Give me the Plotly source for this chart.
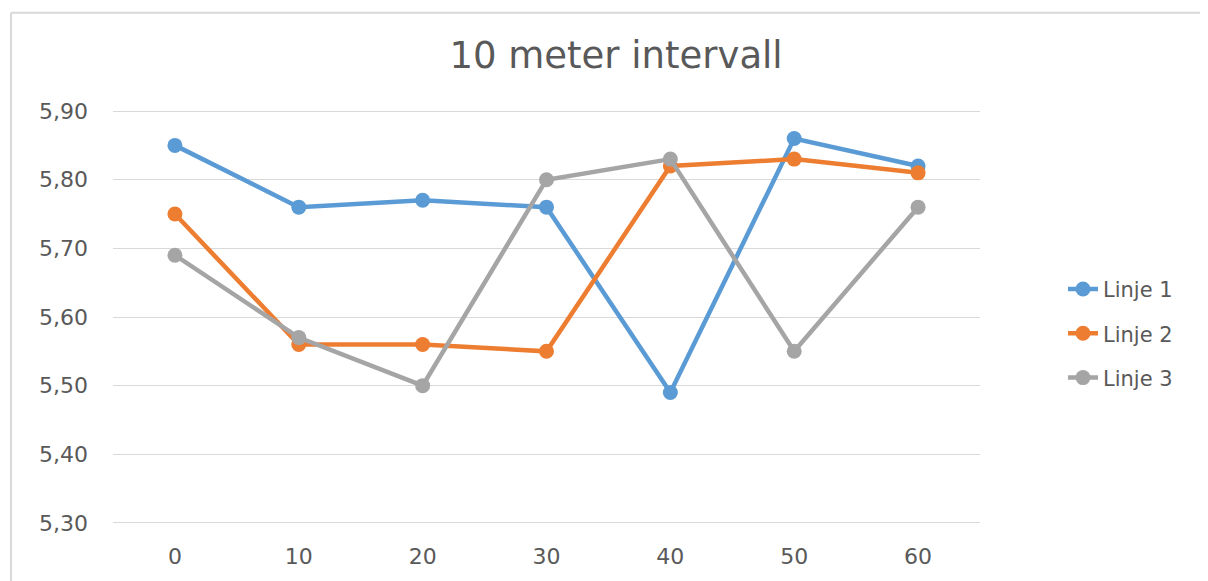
import plotly.graph_objects as go

categories = ["0", "10", "20", "30", "40", "50", "60"]
linje1 = [5.85, 5.76, 5.77, 5.76, 5.49, 5.86, 5.82]
linje2 = [5.75, 5.56, 5.56, 5.55, 5.82, 5.83, 5.81]
linje3 = [5.69, 5.57, 5.50, 5.80, 5.83, 5.55, 5.76]
series_names = ["Linje 1", "Linje 2", "Linje 3"]
colors = ["#5B9BD5", "#ED7D31", "#A5A5A5"]
ytick_vals = [5.30, 5.40, 5.50, 5.60, 5.70, 5.80, 5.90]

fig = go.Figure()
for name, vals, col in zip(series_names, [linje1, linje2, linje3], colors):
    fig.add_trace(go.Scatter(
        x=categories, y=vals, name=name, mode="lines+markers",
        legendgroup=name,
        line=dict(color=col, width=4.5),
        marker=dict(color=col, size=15),
    ))

# page has an 8px body margin, so the figure is drawn at (8, 8)
W, H = 1200, 573
ml, mr, mt, mb = 105, 228, 101, 53
pw, ph = W - ml - mr, H - mt - mb

def px_x(p):
    return (p - ml) / pw

def px_y(p):
    return 1 - (p - mt) / ph

border = dict(color="#D9D9D9", width=2)
fig.add_shape(type="line", xref="paper", yref="paper",
              x0=px_x(3), x1=px_x(1205), y0=px_y(4), y1=px_y(4), line=border)
fig.add_shape(type="line", xref="paper", yref="paper",
              x0=px_x(3), x1=px_x(3), y0=px_y(4), y1=px_y(590), line=border)

font_family = "DejaVu Sans, Open Sans, sans-serif"
fig.update_layout(
    width=W, height=H,
    margin=dict(l=ml, r=mr, t=mt, b=mb),
    paper_bgcolor="white", plot_bgcolor="white",
    separators=", ",
    title=dict(text="10 meter intervall", x=608 / W, xanchor="center",
               y=1 - 47 / H, yanchor="middle",
               font=dict(family=font_family, size=37, color="#595959")),
    font=dict(family=font_family, size=21, color="#595959"),
    xaxis=dict(type="category", range=[-0.5, 6.5], showgrid=False,
               showline=False, zeroline=False, ticks="",
               ticklabelstandoff=16,
               tickfont=dict(size=22, color="#595959")),
    yaxis=dict(range=[5.297, 5.903], tickvals=ytick_vals, tickformat=".2f",
               showgrid=True, gridcolor="#D9D9D9", gridwidth=1,
               zeroline=False, showline=False, ticks="",
               ticklabelstandoff=24,
               tickfont=dict(size=22, color="#595959")),
    legend=dict(x=px_x(1055), xanchor="left", y=px_y(262), yanchor="top",
                traceorder="grouped", tracegroupgap=14,
                font=dict(size=21, color="#595959"),
                bgcolor="rgba(0,0,0,0)"),
    showlegend=True,
)

fig.write_html("out.html")
